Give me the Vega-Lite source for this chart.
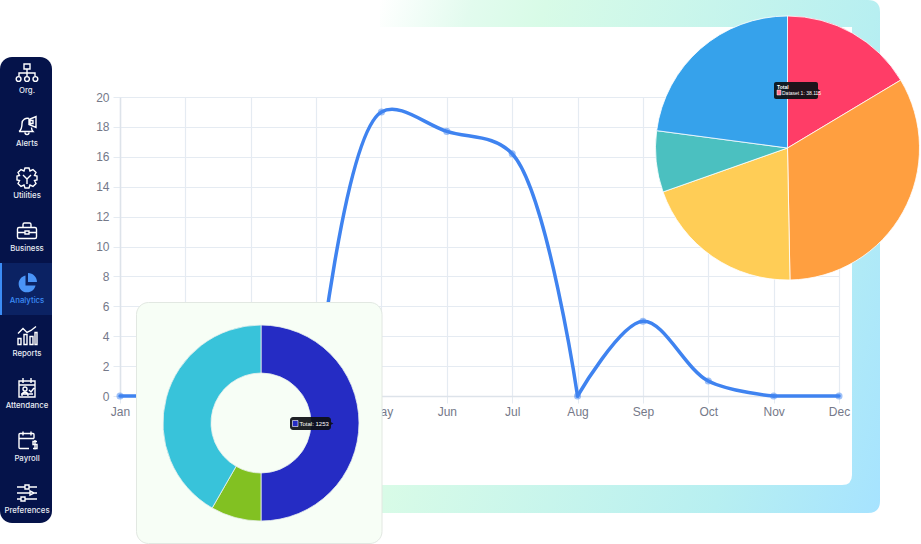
{
"$schema":"https://vega.github.io/schema/vega-lite/v6.json",
"width":719,"height":299,
"autosize":{"type":"none"},
"padding":{"left":120,"top":97,"right":82,"bottom":148},
"background":"#ffffff",
"config":{"view":{"stroke":null},"font":"Liberation Sans"},
"datasets":{
"series":[
{"month":"Jan","value":0,"seg":"a"},{"month":"Feb","value":0,"seg":"a"},{"month":"Mar","value":0,"seg":"a"},{"month":"Apr","value":0,"seg":"a"},
{"month":"Apr","value":0,"seg":"b"},{"month":"May","value":19,"seg":"b"},{"month":"Jun","value":17.7,"seg":"b"},{"month":"Jul","value":16.2,"seg":"b"},{"month":"Aug","value":0,"seg":"b"},
{"month":"Aug","value":0,"seg":"c"},{"month":"Sep","value":5,"seg":"c"},{"month":"Oct","value":1,"seg":"c"},{"month":"Nov","value":0,"seg":"c"},
{"month":"Nov","value":0,"seg":"d"},{"month":"Dec","value":0,"seg":"d"}],
"months":[{"month":"Jan","value":0},{"month":"Feb","value":0},{"month":"Mar","value":0},{"month":"Apr","value":0},{"month":"May","value":19},{"month":"Jun","value":17.7},{"month":"Jul","value":16.2},{"month":"Aug","value":0},{"month":"Sep","value":5},{"month":"Oct","value":1},{"month":"Nov","value":0},{"month":"Dec","value":0}],
"nav":[{"label":"Org."},{"label":"Alerts"},{"label":"Utilities"},{"label":"Business"},{"label":"Analytics"},{"label":"Reports"},{"label":"Attendance"},{"label":"Payroll"},{"label":"Preferences"}]
},
"resolve":{"scale":{"color":"independent","theta":"independent","shape":"independent","y":"independent","x":"independent"},"axis":{"x":"independent","y":"independent"}},
"layer":[
{"data":{"values":[{"part":"frame"}]},
 "mark":{"type":"point","filled":true,"opacity":1,"size":4,
  "shape":"M-250 -256.5L238 -256.5Q250 -256.5 250 -244.5L250 244.5Q250 256.5 238 256.5L-250 256.5L-250 228.5L212 228.5Q222 228.5 222 218.5L222 -229.5L-250 -229.5Z",
  "fill":{"gradient":"linear","x1":0,"y1":0,"x2":1.2,"y2":0.4,"stops":[{"offset":0,"color":"#ffffff"},{"offset":0.14,"color":"#e2fbee"},{"offset":0.25,"color":"#d8fbe7"},{"offset":0.75,"color":"#b7eff1"},{"offset":1,"color":"#a6e3ff"}]}},
 "encoding":{"x":{"value":510},"y":{"value":159.5}}},
{"data":{"name":"series"},
 "mark":{"type":"line","interpolate":"catmull-rom","tension":0.5,"color":"#3f83f0","strokeWidth":3.5,"strokeCap":"round"},
 "encoding":{
  "x":{"field":"month","type":"ordinal","sort":null,"title":null,
   "scale":{"domain":["Jan","Feb","Mar","Apr","May","Jun","Jul","Aug","Sep","Oct","Nov","Dec"],"type":"point","padding":0},
   "axis":{"labelAngle":0,"grid":true,"gridColor":"#e5ebf2","gridWidth":1.2,"domainColor":"#dde3ea","domainWidth":1.5,"tickColor":"#e5ebf2","tickSize":7,"labelColor":"#757989","labelFontSize":12,"labelPadding":3,"labelFont":"Liberation Sans"}},
  "y":{"field":"value","type":"quantitative","title":null,
   "scale":{"domain":[0,20],"nice":false},
   "axis":{"values":[0,2,4,6,8,10,12,14,16,18,20],"grid":true,"gridColor":"#e5ebf2","gridWidth":1.2,"domainColor":"#dde3ea","domainWidth":1.5,"tickColor":"#e5ebf2","tickSize":7,"labelColor":"#757989","labelFontSize":12,"labelPadding":4,"labelFont":"Liberation Sans"}},
  "detail":{"field":"seg"}}},
{"data":{"name":"months"},
 "mark":{"type":"point","filled":true,"color":"#3f83f0","opacity":0.5,"size":50},
 "encoding":{
  "x":{"field":"month","type":"ordinal","sort":null,"scale":{"domain":["Jan","Feb","Mar","Apr","May","Jun","Jul","Aug","Sep","Oct","Nov","Dec"],"type":"point","padding":0},"axis":null},
  "y":{"field":"value","type":"quantitative","scale":{"domain":[0,20],"nice":false},"axis":null}}},
{"data":{"values":[{"part":"card"}]},
 "mark":{"type":"rect","fill":"#f7fef6","stroke":"#e2e8e2","strokeWidth":1,"cornerRadius":12},
 "encoding":{"x":{"value":16.5},"x2":{"value":262},"y":{"value":205.5},"y2":{"value":446.5}}},
{"data":{"values":[{"name":"A","amount":50,"i":1},{"name":"B","amount":8.3,"i":2},{"name":"C","amount":41.7,"i":3}]},
 "mark":{"type":"arc","radius":98,"radius2":50,"stroke":"#e9f0ee","strokeWidth":0.8},
 "encoding":{"x":{"value":141},"y":{"value":326},
  "theta":{"field":"amount","type":"quantitative","stack":true},
  "order":{"field":"i"},
  "color":{"field":"name","type":"nominal","legend":null,"scale":{"domain":["A","B","C"],"range":["#252cc4","#82c122","#38c3da"]}}}},
{"data":{"values":[{"name":"Red","amount":16.4,"i":1},{"name":"Orange","amount":33.3,"i":2},{"name":"Yellow","amount":19.9,"i":3},{"name":"Teal","amount":7.5,"i":4},{"name":"Blue","amount":22.9,"i":5}]},
 "mark":{"type":"arc","radius":132,"stroke":"#ffffff","strokeWidth":0.8},
 "encoding":{"x":{"value":667.5},"y":{"value":51},
  "theta":{"field":"amount","type":"quantitative","stack":true},
  "order":{"field":"i"},
  "color":{"field":"name","type":"nominal","legend":null,"scale":{"domain":["Red","Orange","Yellow","Teal","Blue"],"range":["#ff3d67","#ff9f40","#ffcd56","#4bc0c0","#36a2eb"]}}}},
{"data":{"values":[{"part":"tip"}]},
 "mark":{"type":"rect","fill":"#0c0f14","opacity":0.92,"cornerRadius":2},
 "encoding":{"x":{"value":654},"x2":{"value":698},"y":{"value":-15},"y2":{"value":2}}},
{"data":{"values":[{"part":"caret"}]},
 "mark":{"type":"point","shape":"triangle-right","filled":true,"opacity":0.92,"color":"#0c0f14","size":10},
 "encoding":{"x":{"value":699},"y":{"value":-6.5}}},
{"data":{"values":[{"part":"swatch"}]},
 "mark":{"type":"rect","fill":"#ff6f8d","stroke":"#ffffff","strokeWidth":0.5},
 "encoding":{"x":{"value":657},"x2":{"value":661},"y":{"value":-7},"y2":{"value":-2}}},
{"data":{"values":[{"t":"Total"}]},
 "mark":{"type":"text","align":"left","baseline":"middle","fontSize":5,"fontWeight":"bold","color":"#ffffff","font":"Liberation Sans"},
 "encoding":{"x":{"value":657},"y":{"value":-10},"text":{"field":"t"}}},
{"data":{"values":[{"t":"Dataset 1: 38.115"}]},
 "mark":{"type":"text","align":"left","baseline":"middle","fontSize":5,"color":"#ffffff","font":"Liberation Sans"},
 "encoding":{"x":{"value":662},"y":{"value":-4.5},"text":{"field":"t"}}},
{"data":{"values":[{"part":"tip"}]},
 "mark":{"type":"rect","fill":"#0c0f14","opacity":0.92,"cornerRadius":3},
 "encoding":{"x":{"value":170},"x2":{"value":211},"y":{"value":320},"y2":{"value":333}}},
{"data":{"values":[{"part":"caret"}]},
 "mark":{"type":"point","shape":"triangle-right","filled":true,"opacity":0.92,"color":"#0c0f14","size":10},
 "encoding":{"x":{"value":212},"y":{"value":326.5}}},
{"data":{"values":[{"part":"swatch"}]},
 "mark":{"type":"rect","fill":"#252cc4","stroke":"#ffffff","strokeWidth":0.6},
 "encoding":{"x":{"value":172.5},"x2":{"value":178},"y":{"value":323.5},"y2":{"value":329.5}}},
{"data":{"values":[{"t":"Total: 1253"}]},
 "mark":{"type":"text","align":"left","baseline":"middle","fontSize":6,"color":"#ffffff","font":"Liberation Sans"},
 "encoding":{"x":{"value":179.5},"y":{"value":326.5},"text":{"field":"t"}}},
{"data":{"values":[{"part":"sidebar"}]},
 "mark":{"type":"rect","fill":"#05134a","cornerRadius":12},
 "encoding":{"x":{"value":-120},"x2":{"value":-68},"y":{"value":-40},"y2":{"value":426}}},
{"data":{"values":[{"part":"active"}]},
 "mark":{"type":"rect","fill":"#0b2263"},
 "encoding":{"x":{"value":-120},"x2":{"value":-68},"y":{"value":166},"y2":{"value":218}}},
{"data":{"values":[{"part":"activebar"}]},
 "mark":{"type":"rect","fill":"#3b8cf6"},
 "encoding":{"x":{"value":-120},"x2":{"value":-118},"y":{"value":166},"y2":{"value":218}}},
{"data":{"name":"nav"},
 "transform":[{"filter":"datum.label !== 'Analytics'"}],
 "mark":{"type":"point","filled":false,"opacity":1,"size":4,"strokeWidth":1.4,"color":"#ffffff"},
 "encoding":{"x":{"value":-93},
  "y":{"field":"label","type":"nominal","sort":null,"axis":null,"scale":{"type":"point","padding":0,"domain":["Org.","Alerts","Utilities","Business","Analytics","Reports","Attendance","Payroll","Preferences"],"range":[-24,396]}},
  "shape":{"field":"label","type":"nominal","legend":null,"scale":{"domain":["Org.","Alerts","Utilities","Business","Reports","Attendance","Payroll","Preferences"],"range":[
   "M-3 -9H3V-4H-3ZM0 -4V0M-8 3V0H8V3M0 0V3M-6 6A2.4 2.4 0 1 1 -10.8 6A2.4 2.4 0 1 1 -6 6ZM2.4 6A2.4 2.4 0 1 1 -2.4 6A2.4 2.4 0 1 1 2.4 6ZM10.8 6A2.4 2.4 0 1 1 6 6A2.4 2.4 0 1 1 10.8 6Z",
   "M-8 6C-5 4 -5 0 -5 -2C-5 -6 -1 -8 2 -7M-8 6H6C5 5 4.5 4 4.5 2M-2 7A2 2 0 0 0 2 7M2 -6L9 -9V2L2 -1ZM3 -5H6V-2H3Z",
   "M-2 -10H2L3 -7L6 -8.5L9 -5.5L7.5 -2.5L10 -2V2L7.5 2.5L9 5.5L6 8.5L3 7L2 10H-2L-3 7L-6 8.5L-9 5.5L-7.5 2.5L-10 2V-2L-7.5 -2.5L-9 -5.5L-6 -8.5L-3 -7ZM-4 -3L0 1L4 -3M0 1V6",
   "M-8 -3H8Q9.5 -3 9.5 -1.5V6.5Q9.5 8 8 8H-8Q-9.5 8 -9.5 6.5V-1.5Q-9.5 -3 -8 -3ZM-4 -3V-6Q-4 -7.5 -2.5 -7.5H2.5Q4 -7.5 4 -6V-3M-9.5 2H-2M2 2H9.5M-2 0.5H2V3.5H-2Z",
   "M-9 -2L-4 -7L0 -3L4 -5L9 -9M-9 9V3H-6V9ZM-3 9V-1H0V9ZM3 9V1H6V9ZM8 9V-3H10V9Z",
   "M-8 -7H8V9H-8ZM-4 -10V-5M4 -10V-5M-8 -3H8M-5 8C-5 3 1 3 1 8M0 1A2 2 0 1 1 -4 1A2 2 0 1 1 0 1ZM2 2L4 4L7 0M-6 6H6",
   "M7 -2V-6Q7 -7 6 -7H-7Q-8 -7 -8 -6V7Q-8 8 -7 8H2M-8 -2H7M-4 -9V-5M4 -9V-5M10 1H6V4H10V8H6M8 -0.5V9",
   "M-10 -6H-2M2 -6H10M-2 -8H2V-4H-2ZM-10 0H3M7 0H10M3 -2L7 0L3 2ZM-10 6H-6M-2 6H10M-6 4H-2V8H-6Z"
  ]}}}},
{"data":{"name":"nav"},
 "transform":[{"filter":"datum.label === 'Analytics'"}],
 "mark":{"type":"point","filled":true,"opacity":1,"size":4,"color":"#4a94f7",
  "shape":"M-1.5 -7.5A8.5 8.5 0 1 0 8.5 2.5H-1.5ZM1 -10A9 9 0 0 1 10 -1H1Z"},
 "encoding":{"x":{"value":-93},
  "y":{"field":"label","type":"nominal","sort":null,"axis":null,"scale":{"type":"point","padding":0,"domain":["Org.","Alerts","Utilities","Business","Analytics","Reports","Attendance","Payroll","Preferences"],"range":[-24,396]}}}},
{"data":{"name":"nav"},
 "mark":{"type":"text","fontSize":7.8,"fontWeight":500,"font":"Inter","align":"center","baseline":"middle"},
 "encoding":{"x":{"value":-93},
  "y":{"field":"label","type":"nominal","sort":null,"axis":null,"scale":{"type":"point","padding":0,"domain":["Org.","Alerts","Utilities","Business","Analytics","Reports","Attendance","Payroll","Preferences"],"range":[-6,414]}},
  "text":{"field":"label"},
  "color":{"field":"label","type":"nominal","legend":null,"scale":{"domain":["Org.","Alerts","Utilities","Business","Analytics","Reports","Attendance","Payroll","Preferences"],"range":["#e8ebf3","#e8ebf3","#e8ebf3","#e8ebf3","#3b8cf6","#e8ebf3","#e8ebf3","#e8ebf3","#e8ebf3"]}}}}
]}
